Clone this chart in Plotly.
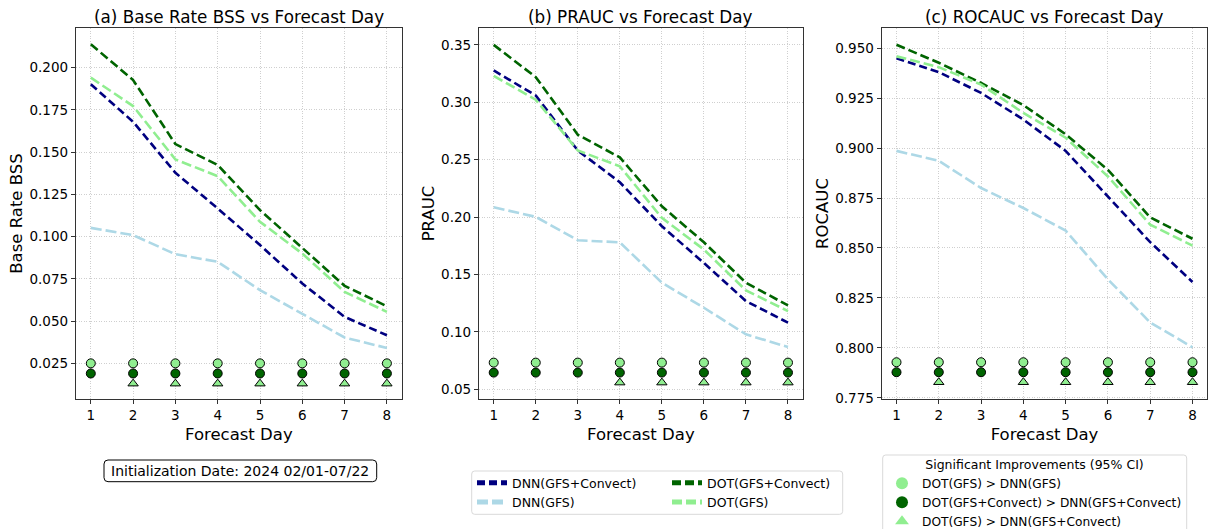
import plotly.graph_objects as go

W, H = 1211, 529

days = [1, 2, 3, 4, 5, 6, 7, 8]

# (a) Base Rate BSS
bss_dnn_conv = [0.1902, 0.1680, 0.1378, 0.1167, 0.0950, 0.0723, 0.0525, 0.0416]
bss_dnn_gfs = [0.1052, 0.1009, 0.0896, 0.0851, 0.0683, 0.0545, 0.0403, 0.0341]
bss_dot_conv = [0.2139, 0.1927, 0.1548, 0.1424, 0.1157, 0.0930, 0.0709, 0.0588]
bss_dot_gfs = [0.1941, 0.1773, 0.1457, 0.1358, 0.1088, 0.0900, 0.0673, 0.0555]

# (b) PRAUC
prauc_dnn_conv = [0.3277, 0.3059, 0.2580, 0.2303, 0.1920, 0.1600, 0.1268, 0.1080]
prauc_dnn_gfs = [0.2085, 0.2002, 0.1798, 0.1780, 0.1428, 0.1210, 0.0978, 0.0868]
prauc_dot_conv = [0.3500, 0.3219, 0.2717, 0.2520, 0.2094, 0.1780, 0.1428, 0.1230]
prauc_dot_gfs = [0.3230, 0.3022, 0.2580, 0.2442, 0.1993, 0.1717, 0.1361, 0.1181]

# (c) ROCAUC
rocauc_dnn_conv = [0.9450, 0.9380, 0.9276, 0.9143, 0.8986, 0.8758, 0.8529, 0.8330]
rocauc_dnn_gfs = [0.8986, 0.8936, 0.8800, 0.8700, 0.8587, 0.8343, 0.8127, 0.8003]
rocauc_dot_conv = [0.9517, 0.9427, 0.9326, 0.9215, 0.9069, 0.8891, 0.8653, 0.8546]
rocauc_dot_gfs = [0.9459, 0.9405, 0.9318, 0.9176, 0.9052, 0.8858, 0.8617, 0.8512]

# significant-improvement days (95% CI)
sig_a_dotgfs_dnngfs = [1, 2, 3, 4, 5, 6, 7, 8]
sig_a_dotconv_dnnconv = [1, 2, 3, 4, 5, 6, 7, 8]
sig_a_dotgfs_dnnconv = [2, 3, 4, 5, 6, 7, 8]
sig_b_dotgfs_dnngfs = [1, 2, 3, 4, 5, 6, 7, 8]
sig_b_dotconv_dnnconv = [1, 2, 3, 4, 5, 6, 7, 8]
sig_b_dotgfs_dnnconv = [4, 5, 6, 7, 8]
sig_c_dotgfs_dnngfs = [1, 2, 3, 4, 5, 6, 7, 8]
sig_c_dotconv_dnnconv = [1, 2, 3, 4, 5, 6, 7, 8]
sig_c_dotgfs_dnnconv = [2, 4, 5, 6, 7, 8]

# marker levels for significance rows in each panel
sig_levels_a = [0.0250, 0.0190, 0.0130]
sig_levels_b = [0.0732, 0.0645, 0.0558]
sig_levels_c = [0.7928, 0.7878, 0.7828]

titles = ["(a) Base Rate BSS vs Forecast Day", "(b) PRAUC vs Forecast Day", "(c) ROCAUC vs Forecast Day"]
ylabels = ["Base Rate BSS", "PRAUC", "ROCAUC"]
yticks = [
    [0.025, 0.05, 0.075, 0.1, 0.125, 0.15, 0.175, 0.2],
    [0.05, 0.10, 0.15, 0.20, 0.25, 0.30, 0.35],
    [0.775, 0.8, 0.825, 0.85, 0.875, 0.9, 0.925, 0.95],
]
yticktext = [
    ["0.025", "0.050", "0.075", "0.100", "0.125", "0.150", "0.175", "0.200"],
    ["0.05", "0.10", "0.15", "0.20", "0.25", "0.30", "0.35"],
    ["0.775", "0.800", "0.825", "0.850", "0.875", "0.900", "0.925", "0.950"],
]
yranges = [[0.0039, 0.2235], [0.0415, 0.3647], [0.7744, 0.9601]]

NAVY, LBLUE, DGREEN, LGREEN = "#000080", "#add8e6", "#006400", "#90ee90"
FONT = "DejaVu Sans"

panels = [
    (bss_dnn_conv, bss_dnn_gfs, bss_dot_conv, bss_dot_gfs,
     sig_a_dotgfs_dnngfs, sig_a_dotconv_dnnconv, sig_a_dotgfs_dnnconv, sig_levels_a),
    (prauc_dnn_conv, prauc_dnn_gfs, prauc_dot_conv, prauc_dot_gfs,
     sig_b_dotgfs_dnngfs, sig_b_dotconv_dnnconv, sig_b_dotgfs_dnnconv, sig_levels_b),
    (rocauc_dnn_conv, rocauc_dnn_gfs, rocauc_dot_conv, rocauc_dot_gfs,
     sig_c_dotgfs_dnngfs, sig_c_dotconv_dnnconv, sig_c_dotgfs_dnnconv, sig_levels_c),
]

# pixel boxes of the three axes (left, right, top, bottom)
boxes = [(76, 401.7, 28, 399), (479, 802.7, 28, 399), (881.7, 1207.3, 28, 399)]


def px(x):
    return x / W


def py(y):
    return 1 - y / H


fig = go.Figure()

line_specs = [
    ("DNN(GFS+Convect)", NAVY, "8px,4px", 0, "legend"),
    ("DNN(GFS)", LBLUE, "11px,4px", 1, "legend"),
    ("DOT(GFS+Convect)", DGREEN, "9px,4px", 2, "legend2"),
    ("DOT(GFS)", LGREEN, "10px,4px", 3, "legend2"),
]

for i, p in enumerate(panels):
    xa = "x" if i == 0 else f"x{i+1}"
    ya = "y" if i == 0 else f"y{i+1}"
    for name, col, dash, idx, leg in line_specs:
        fig.add_trace(go.Scatter(
            x=days, y=p[idx], mode="lines", name=name,
            line=dict(color=col, width=2.6, dash=dash),
            xaxis=xa, yaxis=ya, showlegend=(i == 0), legend=leg,
            legendgroup=name,
        ))
    lv = p[7]
    sig_specs = [
        (p[4], lv[0], LGREEN, "circle"),
        (p[5], lv[1], DGREEN, "circle"),
        (p[6], lv[2], LGREEN, "triangle-up"),
    ]
    for dlist, level, col, sym in sig_specs:
        fig.add_trace(go.Scatter(
            x=dlist, y=[level] * len(dlist), mode="markers",
            marker=dict(color=col, symbol=sym, size=9, line=dict(color="black", width=1)),
            xaxis=xa, yaxis=ya, showlegend=False, hoverinfo="x+y",
        ))

# legend proxies for significance markers
sig_names = ["DOT(GFS) > DNN(GFS)", "DOT(GFS+Convect) > DNN(GFS+Convect)", "DOT(GFS) > DNN(GFS+Convect)"]
sig_cols = [LGREEN, DGREEN, LGREEN]
sig_syms = ["circle", "circle", "triangle-up"]
for n, c, s in zip(sig_names, sig_cols, sig_syms):
    fig.add_trace(go.Scatter(
        x=[None], y=[None], mode="markers", name=n,
        marker=dict(color=c, symbol=s, size=8, line=dict(width=0)),
        legend="legend3", showlegend=True,
    ))

axis_common = dict(
    showline=True, linecolor="#333333", linewidth=1.3, mirror=True,
    ticks="outside", ticklen=4, tickcolor="#333333", tickwidth=1,
    showgrid=True, gridcolor="#cfcfcf", gridwidth=1, griddash="1px,1.5px",
    zeroline=False, tickfont=dict(family=FONT, size=13.5, color="black"),
)

for i, (l, r, t, b) in enumerate(boxes):
    xkey = "xaxis" if i == 0 else f"xaxis{i+1}"
    ykey = "yaxis" if i == 0 else f"yaxis{i+1}"
    ya = "y" if i == 0 else f"y{i+1}"
    xa = "x" if i == 0 else f"x{i+1}"
    fig.layout[xkey] = dict(
        domain=[px(l), px(r)], anchor=ya, range=[0.65, 8.35],
        tickvals=days, ticktext=[str(d) for d in days],
        title=dict(text="Forecast Day", font=dict(family=FONT, size=16.5, color="black"), standoff=6),
        **axis_common,
    )
    fig.layout[ykey] = dict(
        domain=[py(b), py(t)], anchor=xa, range=yranges[i],
        tickvals=yticks[i], ticktext=yticktext[i],
        title=dict(text=ylabels[i], font=dict(family=FONT, size=16.5, color="black"), standoff=2),
        **axis_common,
    )
    fig.add_annotation(
        x=px((l + r) / 2), y=py(17), xref="paper", yref="paper",
        text=titles[i], showarrow=False, xanchor="center", yanchor="middle",
        font=dict(family=FONT, size=16.8, color="black"),
    )


def rounded_rect(x0, y0, x1, y1, rad):
    rx, ry = rad / W, rad / H
    X0, X1 = px(x0), px(x1)
    Y0, Y1 = py(y0), py(y1)  # Y0 top (larger), Y1 bottom
    return (f"M {X0+rx},{Y0} L {X1-rx},{Y0} Q {X1},{Y0} {X1},{Y0-ry} "
            f"L {X1},{Y1+ry} Q {X1},{Y1} {X1-rx},{Y1} L {X0+rx},{Y1} "
            f"Q {X0},{Y1} {X0},{Y1+ry} L {X0},{Y0-ry} Q {X0},{Y0} {X0+rx},{Y0} Z")


# initialization-date box
fig.add_shape(type="path", xref="paper", yref="paper",
              path=rounded_rect(104, 460, 376.7, 481.7, 4),
              line=dict(color="black", width=1), fillcolor="white", layer="above")
fig.add_annotation(
    x=px(240.3), y=py(470.5), xref="paper", yref="paper",
    text="Initialization Date: 2024 02/01-07/22", showarrow=False,
    xanchor="center", yanchor="middle", font=dict(family=FONT, size=14, color="black"),
)

# line legend frame
fig.add_shape(type="path", xref="paper", yref="paper",
              path=rounded_rect(471.7, 471, 842.7, 514.3, 3),
              line=dict(color="#d9d9d9", width=1), fillcolor="rgba(255,255,255,0.8)", layer="below")
# significance legend frame
fig.add_shape(type="path", xref="paper", yref="paper",
              path=rounded_rect(882.7, 455, 1186.7, 540, 3),
              line=dict(color="#d9d9d9", width=1), fillcolor="rgba(255,255,255,0.8)", layer="below")

leg_common = dict(bgcolor="rgba(0,0,0,0)", borderwidth=0, orientation="v",
                  xanchor="left", yanchor="top", tracegroupgap=0, itemsizing="constant")

fig.update_layout(
    width=W, height=H,
    margin=dict(l=0, r=0, t=0, b=0, autoexpand=False),
    paper_bgcolor="white", plot_bgcolor="white",
    font=dict(family=FONT, color="black"),
    legend=dict(x=px(472), y=py(468), font=dict(family=FONT, size=12.5, color="black"), **leg_common),
    legend2=dict(x=px(667), y=py(468), font=dict(family=FONT, size=12.5, color="black"), **leg_common),
    legend3=dict(x=px(882), y=py(452.5), maxheight=1.0,
                 font=dict(family=FONT, size=12.2, color="black"),
                 title=dict(text="Significant Improvements (95% CI)", side="top center",
                            font=dict(family=FONT, size=12.5, color="black")),
                 **leg_common),
)

fig.write_html(
    "out.html",
    config={"displayModeBar": False},
    post_script="document.body.style.margin='0px';document.body.style.overflow='hidden';",
)
